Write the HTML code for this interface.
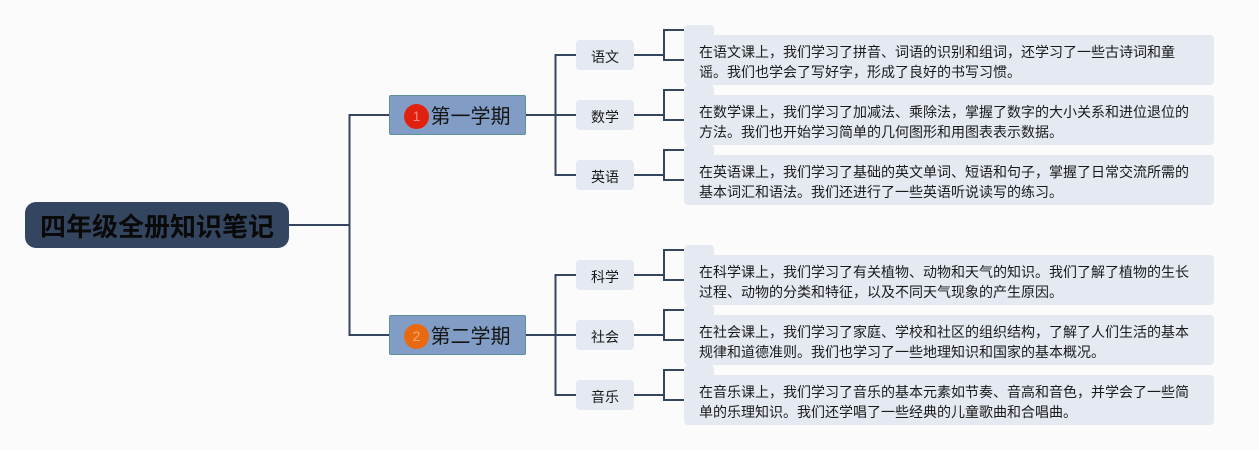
<!DOCTYPE html>
<html lang="zh">
<head>
<meta charset="utf-8">
<style>
html,body{margin:0;padding:0;background:#fbfbfc}
#c{position:relative;width:1259px;height:450px;overflow:hidden;background:#fbfbfc;font-family:"Liberation Sans","Noto Sans CJK SC",sans-serif;color:#111}
#c svg{position:absolute;left:0;top:0}
.a{position:absolute;box-sizing:border-box}
.root{left:25px;top:202px;width:264px;height:46px;background:#34465f;border-radius:11px;font-size:26px;font-weight:700;line-height:51px;text-align:center;color:#0a0a0a;white-space:nowrap}
.l1{left:389px;width:137px;height:40px;background:#819dc5;border:1px solid #5f9098;border-radius:2px;font-size:20px;line-height:43px;white-space:nowrap;padding-left:40.5px;color:#151515}
.dot{position:absolute;left:14px;top:7.5px;width:25px;height:25px;border-radius:50%;font-size:14px;line-height:25px;text-align:center}
.l2{left:576px;width:58px;height:30px;background:#e4e9f2;border-radius:4px;font-size:14px;line-height:35px;text-align:center;color:#1a1a1a}
.tab{left:684px;width:30px;height:16px;background:#e4e9f2;border-radius:4px}
.note{left:684px;width:530px;height:50px;background:#e4e9f2;border-radius:4px;font-size:14px;line-height:20px;padding:7px 15px 0;color:#1a1a1a;white-space:nowrap}
</style>
</head>
<body>
<div id="c">
<svg width="1259" height="450" fill="none" stroke="#34465f" stroke-width="2">
<path d="M289 225H349.5M389 115H349.5V335H389"/>
<path d="M526 115H576M576 55H555.5V175H576"/>
<path d="M526 335H576M576 275H555.5V395H576"/>
<path d="M634 55H664M684 30H664V60H684"/>
<path d="M634 115H664M684 90H664V120H684"/>
<path d="M634 175H664M684 150H664V180H684"/>
<path d="M634 275H664M684 250H664V280H684"/>
<path d="M634 335H664M684 310H664V340H684"/>
<path d="M634 395H664M684 370H664V400H684"/>
</svg>
<div class="a root">四年级全册知识笔记</div>
<div class="a l1" style="top:95px"><span class="dot" style="background:#e2200e;color:#f08a80">1</span>第一学期</div>
<div class="a l1" style="top:315px"><span class="dot" style="background:#e8690f;color:#f5a96f">2</span>第二学期</div>
<div class="a l2" style="top:40px">语文</div>
<div class="a l2" style="top:100px">数学</div>
<div class="a l2" style="top:160px">英语</div>
<div class="a l2" style="top:260px">科学</div>
<div class="a l2" style="top:320px">社会</div>
<div class="a l2" style="top:380px">音乐</div>
<div class="a tab" style="top:25px"></div>
<div class="a tab" style="top:85px"></div>
<div class="a tab" style="top:145px"></div>
<div class="a tab" style="top:245px"></div>
<div class="a tab" style="top:305px"></div>
<div class="a tab" style="top:365px"></div>
<div class="a note" style="top:35px">在语文课上，我们学习了拼音、词语的识别和组词，还学习了一些古诗词和童<br>谣。我们也学会了写好字，形成了良好的书写习惯。</div>
<div class="a note" style="top:95px">在数学课上，我们学习了加减法、乘除法，掌握了数字的大小关系和进位退位的<br>方法。我们也开始学习简单的几何图形和用图表表示数据。</div>
<div class="a note" style="top:155px">在英语课上，我们学习了基础的英文单词、短语和句子，掌握了日常交流所需的<br>基本词汇和语法。我们还进行了一些英语听说读写的练习。</div>
<div class="a note" style="top:255px">在科学课上，我们学习了有关植物、动物和天气的知识。我们了解了植物的生长<br>过程、动物的分类和特征，以及不同天气现象的产生原因。</div>
<div class="a note" style="top:315px">在社会课上，我们学习了家庭、学校和社区的组织结构，了解了人们生活的基本<br>规律和道德准则。我们也学习了一些地理知识和国家的基本概况。</div>
<div class="a note" style="top:375px">在音乐课上，我们学习了音乐的基本元素如节奏、音高和音色，并学会了一些简<br>单的乐理知识。我们还学唱了一些经典的儿童歌曲和合唱曲。</div>
</div>
</body>
</html>
